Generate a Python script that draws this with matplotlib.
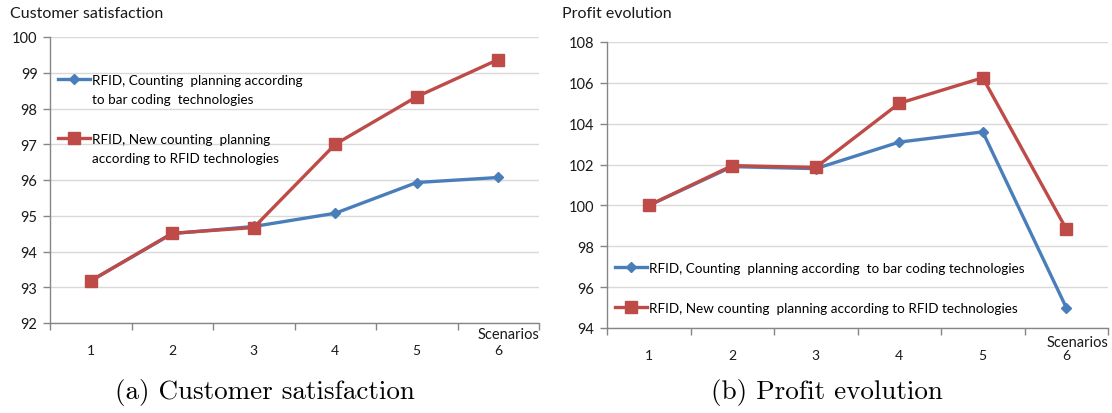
import matplotlib
matplotlib.use("Agg")
import matplotlib.pyplot as plt
from matplotlib.lines import Line2D

# Scenario indices (category axis)
scenarios = [1, 2, 3, 4, 5, 6]
scenario_labels = ["1", "2", "3", "4", "5", "6"]

# Customer satisfaction
sat_barcode = [93.18, 94.50, 94.70, 95.07, 95.93, 96.07]
sat_rfid = [93.18, 94.51, 94.67, 97.00, 98.33, 99.37]

# Profit evolution
profit_barcode = [100.0, 101.90, 101.80, 103.10, 103.60, 95.00]
profit_rfid = [100.0, 101.95, 101.86, 105.00, 106.25, 98.85]

sat_ticks = [92, 93, 94, 95, 96, 97, 98, 99, 100]
profit_ticks = [94, 96, 98, 100, 102, 104, 106, 108]

label_barcode_a = ["RFID, Counting  planning according", "to bar coding  technologies"]
label_rfid_a = ["RFID, New counting  planning", "according to RFID technologies"]
label_barcode_b = "RFID, Counting  planning according  to bar coding technologies"
label_rfid_b = "RFID, New counting  planning according to RFID technologies"

BLUE = "#4a7ebb"
RED = "#be4b48"
GRID = "#d9d9d9"
AXIS = "#868686"
UI_FONT = ["Lato", "DejaVu Sans"]

W, H = 1112, 414
fig = plt.figure(figsize=(W / 100, H / 100), dpi=100)


def px_axes(x0, x1, y0, y1):
    """Create axes from pixel bounds (top-left origin)."""
    return fig.add_axes([x0 / W, 1 - y1 / H, (x1 - x0) / W, (y1 - y0) / H])


def style_axes(ax, yticks):
    ax.set_xlim(0.5, 6.5)
    ax.set_ylim(yticks[0], yticks[-1])
    ax.set_yticks(yticks)
    ax.set_yticklabels([str(t) for t in yticks], fontsize=10.5, family=UI_FONT,
                       color="#1a1a1a")
    # category boundaries carry the tick marks, centres carry the labels
    ax.set_xticks([i + 0.5 for i in range(0, 7)])
    ax.set_xticklabels([])
    ax.set_xticks(scenarios, minor=True)
    ax.set_xticklabels(scenario_labels, minor=True, fontsize=10,
                       family=UI_FONT, color="#1a1a1a")
    ax.tick_params(axis="x", which="major", direction="out", length=5,
                   color=AXIS, width=1)
    ax.tick_params(axis="x", which="minor", length=0, pad=15)
    ax.tick_params(axis="y", direction="out", length=5, color=AXIS, width=1,
                   pad=4)
    ax.grid(axis="y", color=GRID, linewidth=1)
    ax.set_axisbelow(True)
    for s in ("top", "right"):
        ax.spines[s].set_visible(False)
    for s in ("left", "bottom"):
        ax.spines[s].set_color(AXIS)
        ax.spines[s].set_linewidth(1)


def plot_series(ax, y_bar, y_rfid):
    lb, = ax.plot(scenarios, y_bar, color=BLUE, linewidth=2.4, marker="D",
                  markersize=5.5, zorder=3)
    lr, = ax.plot(scenarios, y_rfid, color=RED, linewidth=2.4, marker="s",
                  markersize=8, zorder=4)
    return lb, lr


# (a) Customer satisfaction
ax1 = px_axes(50, 539, 38, 324)
lb1, lr1 = plot_series(ax1, sat_barcode, sat_rfid)
style_axes(ax1, sat_ticks)
fig.text(10 / W, 1 - 14 / H, "Customer satisfaction", fontsize=11.5,
         family=UI_FONT, va="center", ha="left", color="#1a1a1a")
ax1.text(1.0, -0.04, "Scenarios", transform=ax1.transAxes, ha="right",
         va="center", fontsize=10.5, family=UI_FONT, color="#1a1a1a")
# wrapped legend labels: the marker sits on the first line of each label
blank = Line2D([], [], linestyle="none", marker="none")
leg1 = ax1.legend([lb1, blank, blank, lr1, blank],
                  [label_barcode_a[0], label_barcode_a[1], " ",
                   label_rfid_a[0], label_rfid_a[1]],
                  loc="upper left", bbox_to_anchor=(0.0, 0.90), frameon=False,
                  prop={"family": UI_FONT, "size": 9.7}, handlelength=2.4,
                  handletextpad=0.15, labelspacing=0.57, borderaxespad=0.2)

# (b) Profit evolution
ax2 = px_axes(607, 1108, 43, 329)
lb2, lr2 = plot_series(ax2, profit_barcode, profit_rfid)
style_axes(ax2, profit_ticks)
fig.text(562 / W, 1 - 14 / H, "Profit evolution", fontsize=11.5,
         family=UI_FONT, va="center", ha="left", color="#1a1a1a")
ax2.text(1.0, -0.05, "Scenarios", transform=ax2.transAxes, ha="right",
         va="center", fontsize=10.5, family=UI_FONT, color="#1a1a1a")
leg2 = ax2.legend([lb2, lr2], [label_barcode_b, label_rfid_b],
                  loc="upper left", bbox_to_anchor=(0.0, 0.26), frameon=False,
                  prop={"family": UI_FONT, "size": 9.7}, handlelength=2.4,
                  handletextpad=0.15, labelspacing=2.1, borderaxespad=0.2)

# Sub-figure captions
fig.text(265 / W, 1 - 393 / H, "(a) Customer satisfaction", fontsize=19.5,
         family="cmr10", ha="center", va="center")
fig.text(827 / W, 1 - 393 / H, "(b) Profit evolution", fontsize=19.5,
         family="cmr10", ha="center", va="center")

fig.savefig("out.png", dpi=100)
